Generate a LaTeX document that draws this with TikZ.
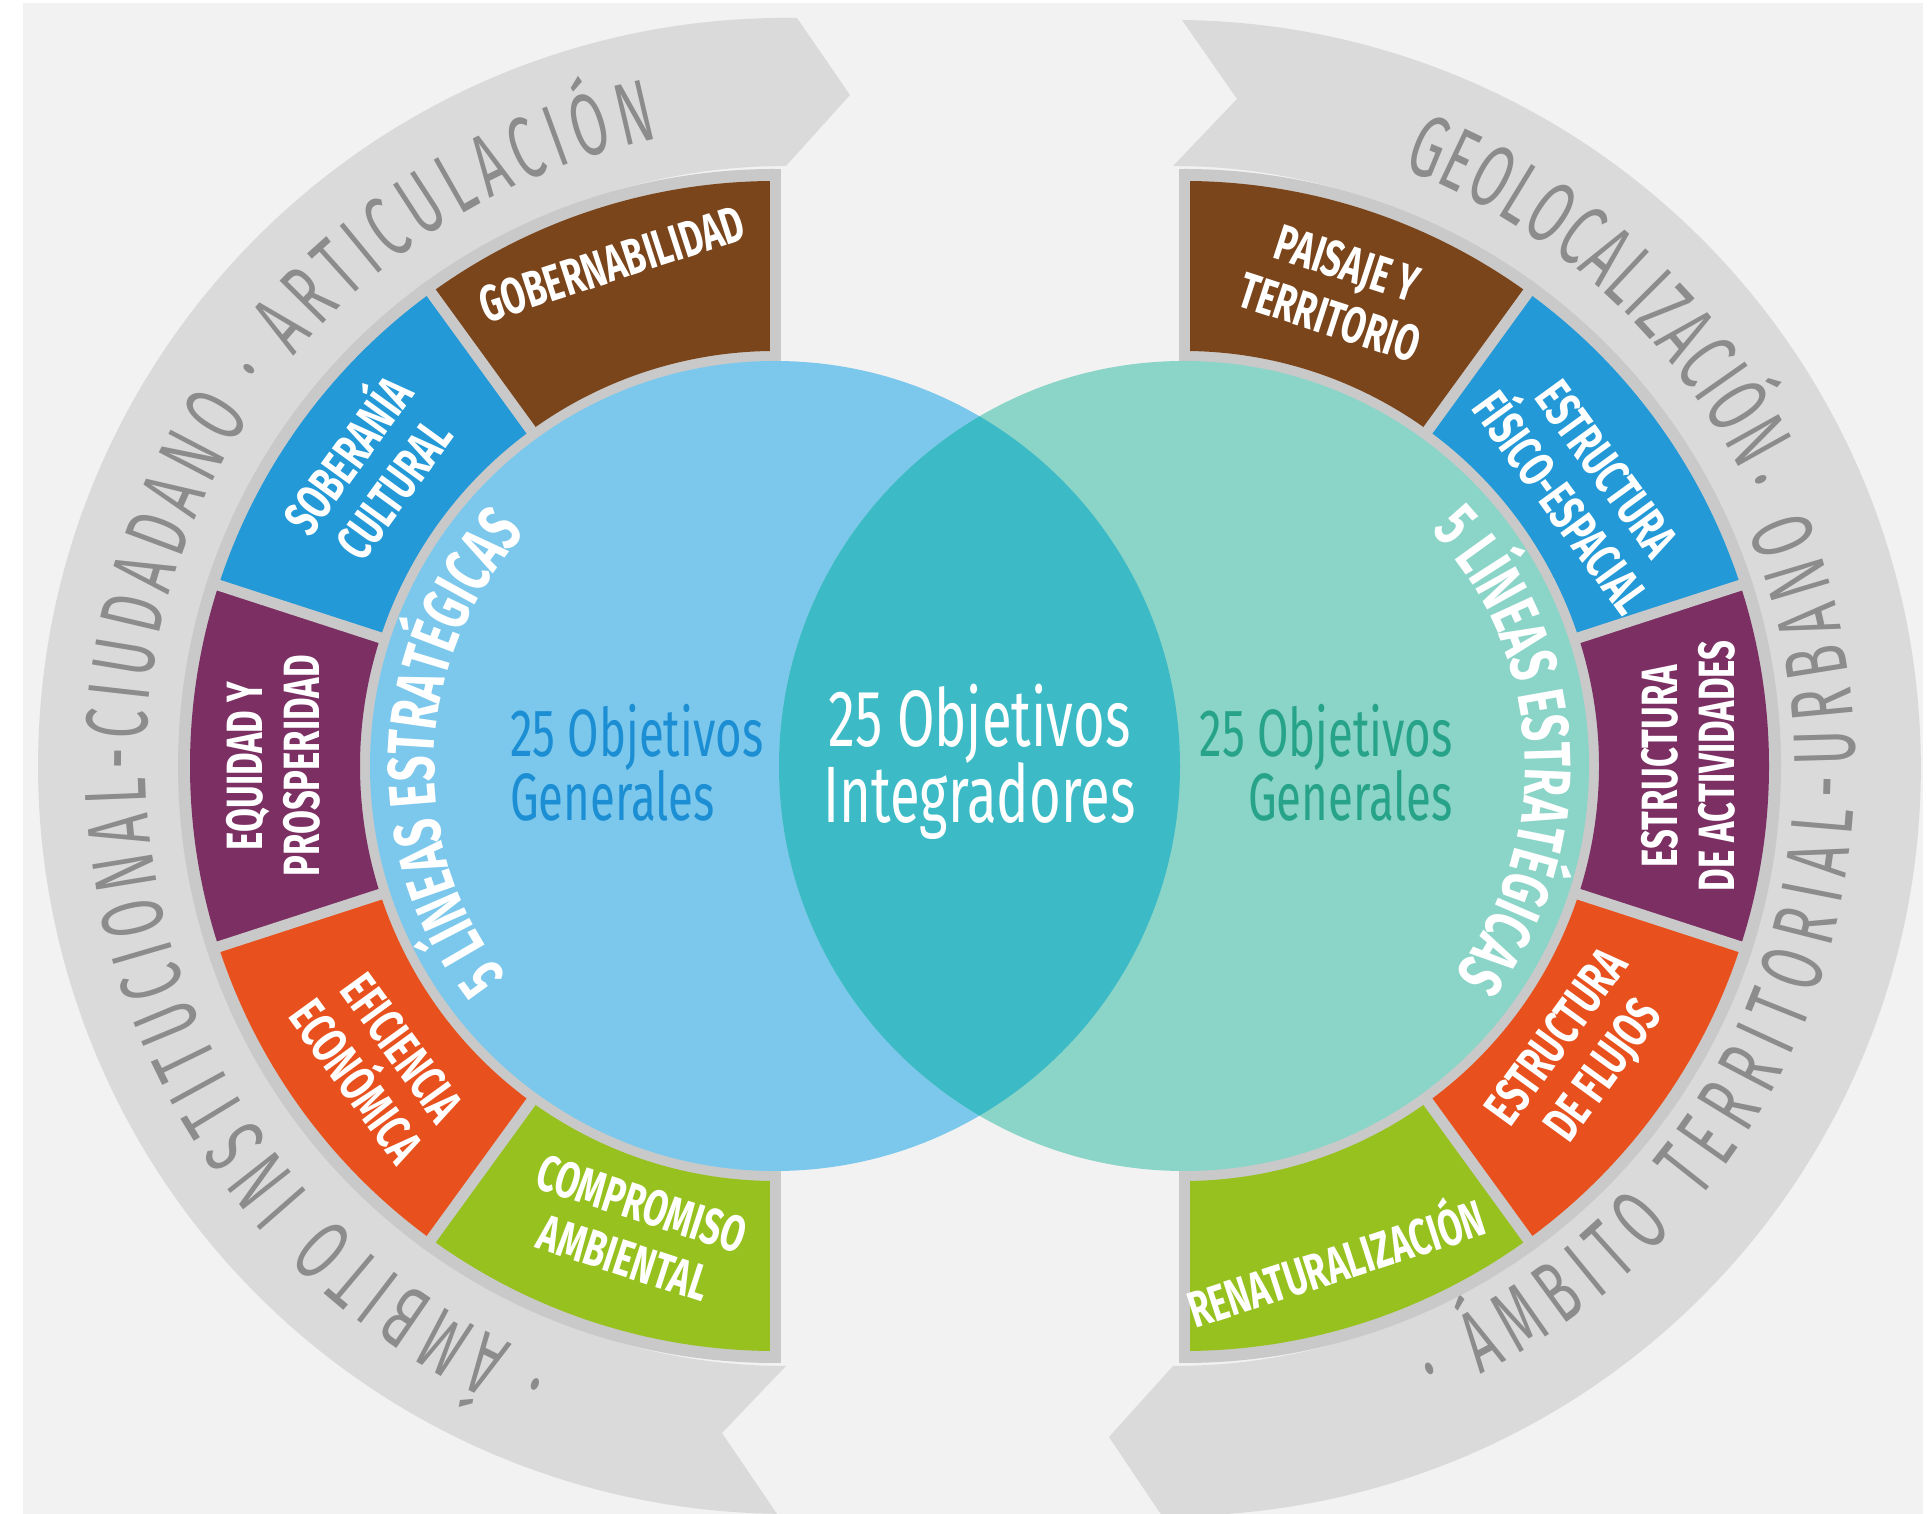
\documentclass[tikz,border=0pt]{standalone}
\usepackage{fontspec}
\setmainfont{Fira Sans}[FakeStretch=0.68]
\newfontfamily\condfont{Fira Sans}[FakeStretch=0.68]
\newfontfamily\bandfont{Fira Sans}[FakeStretch=0.6]
\usetikzlibrary{decorations.text}
\definecolor{bgc}{HTML}{F2F2F2}
\definecolor{bandc}{HTML}{DADADA}
\definecolor{ringc}{HTML}{C9C9C9}
\definecolor{cbrown}{HTML}{7B451C}
\definecolor{cblue}{HTML}{2399D7}
\definecolor{cpurple}{HTML}{7B2F63}
\definecolor{corange}{HTML}{E8511D}
\definecolor{cgreen}{HTML}{96C11F}
\definecolor{circL}{HTML}{7CC8EC}
\definecolor{circR}{HTML}{8BD4C8}
\definecolor{lensc}{HTML}{3CBBC7}
\definecolor{bandtext}{HTML}{8C8C8C}
\definecolor{objL}{HTML}{1C8ED3}
\definecolor{objR}{HTML}{27A38A}
\newcommand\bandtxt{\bandfont\fontsize{88}{88}\selectfont}
\newcommand\linetxt{\condfont\bfseries\fontsize{66}{66}\selectfont}
\newcommand\labtxt{\condfont\bfseries\fontsize{51}{57}\selectfont}
\begin{document}
\begin{tikzpicture}[x=1pt,y=1pt,
  lab/.style={text=white, font=\labtxt, align=center, inner sep=0pt},
  centtxt/.style={text=white, font=\condfont\fontsize{80}{80}\selectfont, inner sep=0pt},
  sideL/.style={text=objL, font=\condfont\fontsize{67}{67}\selectfont, inner sep=0pt},
  sideR/.style={text=objR, font=\condfont\fontsize{67}{67}\selectfont, inner sep=0pt},
  gapline/.style={draw=ringc, line width=11pt}]
\useasboundingbox (0,0) rectangle (1927,1514);
\coordinate (L) at (775,748);
\coordinate (R) at (1184,748);
\coordinate (BL) at (786,748);
\coordinate (BR) at (1173,748);
% background
\fill[white] (0,0) rectangle (1927,1514);
\fill[bgc] (23,0) rectangle (1923,1511);
% outer bands
\fill[bandc] (797,1496) arc[start angle=89.16, end angle=269.3, radius=748]
  -- (722,81) -- (786,148) arc[start angle=270, end angle=90, radius=600]
  -- (850,1419) -- cycle;
\fill[bandc] (1182,1494) arc[start angle=89.3, end angle=-90.84, radius=748]
  -- (1109,77) -- (1173,148) arc[start angle=-90, end angle=90, radius=600]
  -- (1237,1415) -- cycle;
% band texts
\path[decorate, decoration={text along path, text color=bandtext, text align=fit to path,
  text={|\bandtxt|· ÁMBITO INSTITUCIONAL-CIUDADANO · ARTICULACIÓN}}]
  ([shift={(248.5:640)}]BL) arc[start angle=248.5, end angle=101.5, radius=640];
\path[decorate, decoration={text along path, text color=bandtext, text align=fit to path,
  text={|\bandtxt|GEOLOCALIZACIÓN}}]
  ([shift={(69:640)}]BR) arc[start angle=69, end angle=27.5, radius=640];
\path[decorate, decoration={text along path, text color=bandtext, text align=fit to path,
  text={|\bandtxt|· ÁMBITO TERRITORIAL-URBANO ·}}]
  ([shift={(-67.5:682)}]BR) arc[start angle=-67.5, end angle=26.5, radius=682];
% segment rings
\fill[ringc] ([shift={(90:597)}]L) arc[start angle=90, end angle=270, radius=597]
  -- ([shift={(270:398)}]L) arc[start angle=270, end angle=90, radius=398] -- cycle;
\fill[ringc] ([shift={(90:597)}]R) arc[start angle=90, end angle=-90, radius=597]
  -- ([shift={(-90:398)}]R) arc[start angle=-90, end angle=90, radius=398] -- cycle;
\foreach \a/\b/\c in {90/126/cbrown,126/162/cblue,162/198/cpurple,198/234/corange,234/270/cgreen}{
  \fill[\c] ([shift={(\a:585)}]L) arc[start angle=\a, end angle=\b, radius=585]
    -- ([shift={(\b:415)}]L) arc[start angle=\b, end angle=\a, radius=415] -- cycle;}
\foreach \a/\b/\c in {90/54/cbrown,54/18/cblue,18/-18/cpurple,-18/-54/corange,-54/-90/cgreen}{
  \fill[\c] ([shift={(\a:585)}]R) arc[start angle=\a, end angle=\b, radius=585]
    -- ([shift={(\b:415)}]R) arc[start angle=\b, end angle=\a, radius=415] -- cycle;}
\foreach \a in {90,126,162,198,234,270}{
  \draw[gapline] ([shift={(\a:398)}]L) -- ([shift={(\a:597)}]L);}
\foreach \a in {90,54,18,-18,-54,-90}{
  \draw[gapline] ([shift={(\a:398)}]R) -- ([shift={(\a:597)}]R);}
% circles
\fill[circL] (L) circle[radius=405];
\fill[circR] (R) circle[radius=405];
\begin{scope}
  \clip (L) circle[radius=405];
  \fill[lensc] (R) circle[radius=405];
\end{scope}
% 5 lineas
\path[decorate, decoration={text along path, text color=white, text align=center,
  text={|\linetxt|5 LÍNEAS ESTRATÉGICAS}}]
  ([shift={(225:341)}]L) arc[start angle=225, end angle=130, radius=341];
\path[decorate, decoration={text along path, text color=white, text align=center,
  text={|\linetxt|5 LÍNEAS ESTRATÉGICAS}}]
  ([shift={(45:341)}]R) arc[start angle=45, end angle=-39, radius=341];
% segment labels left
\node[lab, rotate=18] (gob) at ([shift={(108:528)}]L) {GOBERNABILIDAD};
\node[lab, rotate=54] (sob) at ([shift={(144:505)}]L) {SOBERANÍA\\CULTURAL};
\node[lab, rotate=90] (equ) at ([shift={(180:502)}]L) {EQUIDAD Y\\PROSPERIDAD};
\node[lab, rotate=-54] (efi) at ([shift={(217:496)}]L) {EFICIENCIA\\ECONÓMICA};
\node[lab, rotate=-18] (com) at ([shift={(253:486)}]L) {COMPROMISO\\AMBIENTAL};
% segment labels right
\node[lab, rotate=-18] (pai) at ([shift={(72:500)}]R) {PAISAJE Y\\TERRITORIO};
\node[lab, rotate=-54] (fis) at ([shift={(35:488)}]R) {ESTRUCTURA\\FÍSICO-ESPACIAL};
\node[lab, rotate=90] (act) at ([shift={(0:504)}]R) {ESTRUCTURA\\DE ACTIVIDADES};
\node[lab, rotate=54] (flu) at ([shift={(-36:492)}]R) {ESTRUCTURA\\DE FLUJOS};
\node[lab, rotate=18] (ren) at ([shift={(-73:515)}]R) {RENATURALIZACIÓN};
% center texts
\node[centtxt, anchor=base] (c1) at (979.5,767) {25 Objetivos};
\node[centtxt, anchor=base] (c2) at (979.5,691) {Integradores};
\node[sideL, anchor=base west] (l1) at (510,757) {25 Objetivos};
\node[sideL, anchor=base west] (l2) at (510,693) {Generales};
\node[sideR, anchor=base east] (r1) at (1453,757) {25 Objetivos};
\node[sideR, anchor=base east] (r2) at (1453,693) {Generales};
\end{tikzpicture}
\end{document}
